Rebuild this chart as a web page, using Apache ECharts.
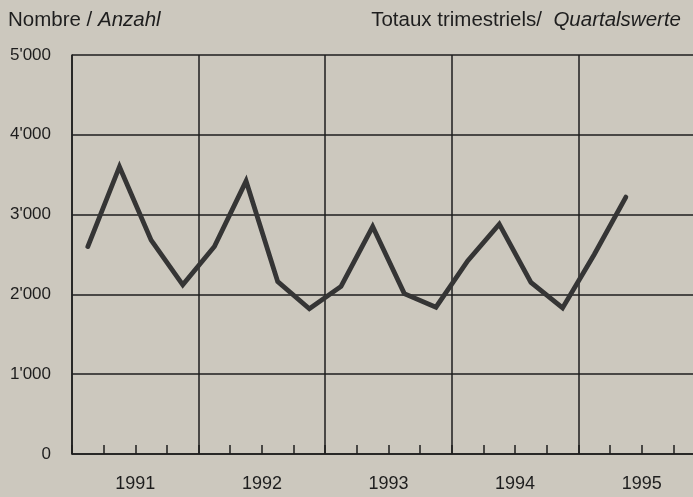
<!DOCTYPE html>
<html>
<head>
<meta charset="utf-8">
<script src="https://cdn.jsdelivr.net/npm/echarts@6/dist/echarts.min.js"></script>
<style>
  html, body { margin: 0; padding: 0; background: #ccc8be; }
  #chart { width: 693px; height: 497px; }
</style>
</head>
<body>
<div id="chart"></div>
<script>
const years = ['1991', '1992', '1993', '1994', '1995']
const quarters = ['Q1', 'Q2', 'Q3', 'Q4']
// quarterly totals, 1991 Q1 .. 1995 Q2
const totals = [2600, 3600, 2680, 2120, 2600, 3420, 2160, 1820, 2100, 2850, 2010, 1840, 2420, 2880, 2150, 1830, 2500, 3220]
const yTicks = [0, 1000, 2000, 3000, 4000, 5000]

const quarterCats = []
years.forEach(y => quarters.forEach(q => quarterCats.push(y + ' ' + q)))

const ink = '#1e1e1e'
const sans = "'Liberation Sans', Arial, sans-serif"

const fmt = v => String(v).replace(/\B(?=(\d{3})+(?!\d))/g, "'")

const chart = echarts.init(document.getElementById('chart'))

const titleRich = {
  a: { fontFamily: sans, fontSize: 20.5, fontWeight: 'normal', color: ink },
  b: { fontFamily: sans, fontSize: 20.5, fontWeight: 'normal', fontStyle: 'italic', color: ink }
}

const option = {
  backgroundColor: '#ccc8be',
  animation: false,
  title: [
    {
      left: 8,
      top: 10,
      padding: 0,
      text: '{a|Nombre / }{b|Anzahl}',
      textStyle: { rich: titleRich }
    },
    {
      right: 12,
      top: 10,
      padding: 0,
      text: '{a|Totaux trimestriels/  }{b|Quartalswerte}',
      textStyle: { rich: titleRich }
    }
  ],
  grid: {
    left: 72,
    top: 55,
    width: 633,
    height: 399,
    outerBoundsMode: 'none',
    containLabel: false
  },
  xAxis: [
    {
      type: 'category',
      data: quarterCats,
      boundaryGap: true,
      position: 'bottom',
      axisLine: { show: true, lineStyle: { color: ink, width: 1.5 } },
      axisTick: { show: true, inside: true, length: 9, interval: 0, lineStyle: { color: ink, width: 1.5 } },
      axisLabel: { show: false },
      splitLine: { show: false }
    },
    {
      type: 'category',
      data: years,
      boundaryGap: true,
      position: 'bottom',
      axisLine: { show: false },
      axisTick: { show: false },
      axisLabel: {
        show: true,
        margin: 21,
        fontFamily: sans,
        fontSize: 18,
        color: ink
      },
      splitLine: { show: true, interval: 0, lineStyle: { color: ink, width: 1.5 } }
    }
  ],
  yAxis: {
    type: 'value',
    min: yTicks[0],
    max: yTicks[yTicks.length - 1],
    interval: 1000,
    axisLine: { show: true, lineStyle: { color: ink, width: 1.5 } },
    axisTick: { show: false },
    axisLabel: {
      margin: 21,
      fontFamily: sans,
      fontSize: 17,
      color: ink,
      formatter: fmt
    },
    splitLine: { show: true, lineStyle: { color: ink, width: 1.5 } }
  },
  series: [
    {
      type: 'line',
      xAxisIndex: 0,
      data: totals,
      symbol: 'none',
      lineStyle: { color: '#353535', width: 4.8, join: 'miter', cap: 'round' }
    }
  ]
}

chart.setOption(option)
</script>
</body>
</html>
